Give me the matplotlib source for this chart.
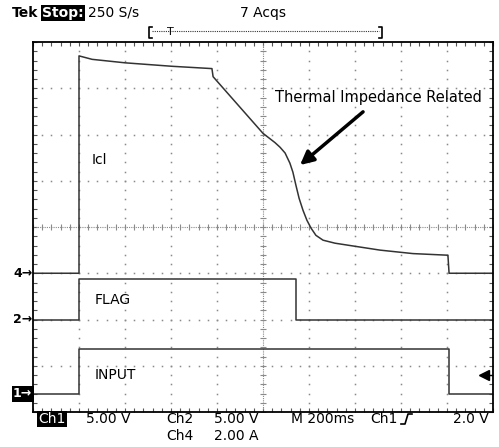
import numpy as np
import matplotlib.pyplot as plt
from matplotlib.lines import Line2D

# time axis: 200 ms/div, 10 div
icl_ms = [0, 200, 200, 257, 400, 604, 778, 783, 1000, 1052, 1074, 1096, 1117,
          1130, 1143, 1157, 1174, 1191, 1209, 1230, 1261, 1313, 1378, 1509,
          1652, 1804, 1809, 2000]
icl_amp = [0, 0, 9.4, 9.25, 9.1, 8.95, 8.85, 8.5, 6.05, 5.65, 5.45, 5.2, 4.76,
           4.37, 3.81, 3.24, 2.72, 2.29, 1.95, 1.64, 1.43, 1.3, 1.2, 1.0,
           0.85, 0.78, 0, 0]
flag_ms = [0, 200, 200, 1143, 1143, 2000]
flag_v = [0, 0, 4.4, 4.4, 0, 0]
input_ms = [0, 200, 200, 1809, 1809, 2000]
input_v = [0, 0, 4.85, 4.85, 0, 0]

# channel scale (units/div) and ground offset (div)
ch4_scale, ch4_off = 2.0, -1.0
ch2_scale, ch2_off = 5.0, -2.0
ch1_scale, ch1_off = 5.0, -3.61
trig_level = 2.0

W, H = 499, 447
fig = plt.figure(figsize=(W / 100, H / 100), dpi=100)
ax = fig.add_axes([33 / W, 35 / H, 460 / W, 370 / H])
ax.set_xlim(0, 2000)
ax.set_ylim(-4, 4)

def fx(x, y):
    return x / W, 1 - y / H

# graticule
gcol = '#8a8a8a'
minor_x = np.arange(0, 2001, 40)
minor_y = np.arange(-4, 4.01, 0.2)
for k in range(1, 10):
    if k == 5:
        continue
    ax.plot([k * 200] * len(minor_y), minor_y, ls='none', marker='s', ms=1.1,
            mec='none', mfc=gcol)
for k in range(-3, 4):
    if k == 0:
        continue
    ax.plot(minor_x, [k] * len(minor_x), ls='none', marker='s', ms=1.1,
            mec='none', mfc=gcol)
ax.plot([1000, 1000], [-4, 4], ls=(0, (1, 1)), lw=0.8, color=gcol)
ax.plot([1000] * len(minor_y), minor_y, ls='none', marker='_', ms=5, mew=0.8, color=gcol)
ax.plot([0, 2000], [0, 0], ls=(0, (1, 1)), lw=0.8, color=gcol)
ax.plot(minor_x, [0] * len(minor_x), ls='none', marker='|', ms=5, mew=0.8, color=gcol)

ax.set_xticks(np.arange(0, 2001, 200))
ax.set_xticks(minor_x, minor=True)
ax.set_yticks(np.arange(-4, 4.01, 1))
ax.set_yticks(minor_y, minor=True)
ax.tick_params(which='both', direction='in', top=True, right=True, length=3,
               width=0.8, color='#555555', labelbottom=False, labelleft=False)
for s in ax.spines.values():
    s.set_linewidth(1.3)

# traces
tcol = '#333333'
ax.plot(icl_ms, ch4_off + np.array(icl_amp) / ch4_scale, color=tcol, lw=1.1)
ax.plot(flag_ms, ch2_off + np.array(flag_v) / ch2_scale, color=tcol, lw=1.1)
ax.plot(input_ms, ch1_off + np.array(input_v) / ch1_scale, color=tcol, lw=1.1)

# trace labels
ax.text(257, 1.45, 'Icl', fontsize=10, va='center', ha='left')
ax.text(270, -1.58, 'FLAG', fontsize=10, va='center', ha='left')
ax.text(270, -3.21, 'INPUT', fontsize=10, va='center', ha='left')
ax.text(1500, 2.81, 'Thermal Impedance Related', fontsize=10.5, va='center', ha='center')
ax.annotate('', xy=(1161, 1.34), xytext=(1435, 2.49),
            arrowprops=dict(arrowstyle='-|>,head_length=0.8,head_width=0.4',
                            lw=2.5, color='black', shrinkA=0, shrinkB=0))

# trigger level arrow on right edge
ty = ch1_off + trig_level / ch1_scale
ax.plot([1960], [ty], marker='<', ms=7, color='black', clip_on=False)
ax.plot([1960, 2000], [ty, ty], color='black', lw=1.0)

# ground markers
fs = 9
ax.text(-3, ch4_off, '4\u2192', fontsize=fs, ha='right', va='center', fontweight='bold')
ax.text(-3, ch2_off, '2\u2192', fontsize=fs, ha='right', va='center', fontweight='bold')
ax.text(-3, ch1_off, '1\u2192', fontsize=fs, ha='right', va='center', color='white',
        fontweight='bold', bbox=dict(boxstyle='square,pad=0.1', fc='black', ec='none'))

# header
fig.text(*fx(12, 13), 'Tek', fontsize=10, fontweight='bold', va='center')
fig.text(*fx(42, 13), 'Stop:', fontsize=10, fontweight='bold', va='center', color='white',
         bbox=dict(boxstyle='square,pad=0.1', fc='black', ec='none'))
fig.text(*fx(88, 13), '250 S/s', fontsize=10, va='center')
fig.text(*fx(240, 13), '7 Acqs', fontsize=10, va='center')
fig.add_artist(Line2D([152 / W, 379 / W], [1 - 31 / H] * 2, ls=(0, (1, 1)), lw=0.8, color='#333333'))
fig.add_artist(Line2D([152 / W, 149 / W, 149 / W, 152 / W],
                      [1 - 27 / H, 1 - 27 / H, 1 - 38 / H, 1 - 38 / H], lw=1.2, color='black'))
fig.add_artist(Line2D([379 / W, 382 / W, 382 / W, 379 / W],
                      [1 - 27 / H, 1 - 27 / H, 1 - 38 / H, 1 - 38 / H], lw=1.2, color='black'))
fig.text(*fx(170, 32), 'T', fontsize=8, ha='center', va='center')

# footer
fig.text(*fx(38, 419), 'Ch1', fontsize=10, va='center', color='white',
         bbox=dict(boxstyle='square,pad=0.1', fc='black', ec='none'))
fig.text(*fx(86, 419), '5.00 V', fontsize=10, va='center')
fig.text(*fx(166, 419), 'Ch2', fontsize=10, va='center')
fig.text(*fx(214, 419), '5.00 V', fontsize=10, va='center')
fig.text(*fx(291, 419), 'M 200ms', fontsize=10, va='center')
fig.text(*fx(370, 419), 'Ch1', fontsize=10, va='center')
fig.add_artist(Line2D([401 / W, 405 / W, 408 / W, 412 / W],
                      [1 - 424 / H, 1 - 424 / H, 1 - 414 / H, 1 - 414 / H], lw=1.2, color='black'))
fig.text(*fx(453, 419), '2.0 V', fontsize=10, va='center')
fig.text(*fx(166, 436), 'Ch4', fontsize=10, va='center')
fig.text(*fx(214, 436), '2.00 A', fontsize=10, va='center')

fig.savefig('out.png', dpi=100)
